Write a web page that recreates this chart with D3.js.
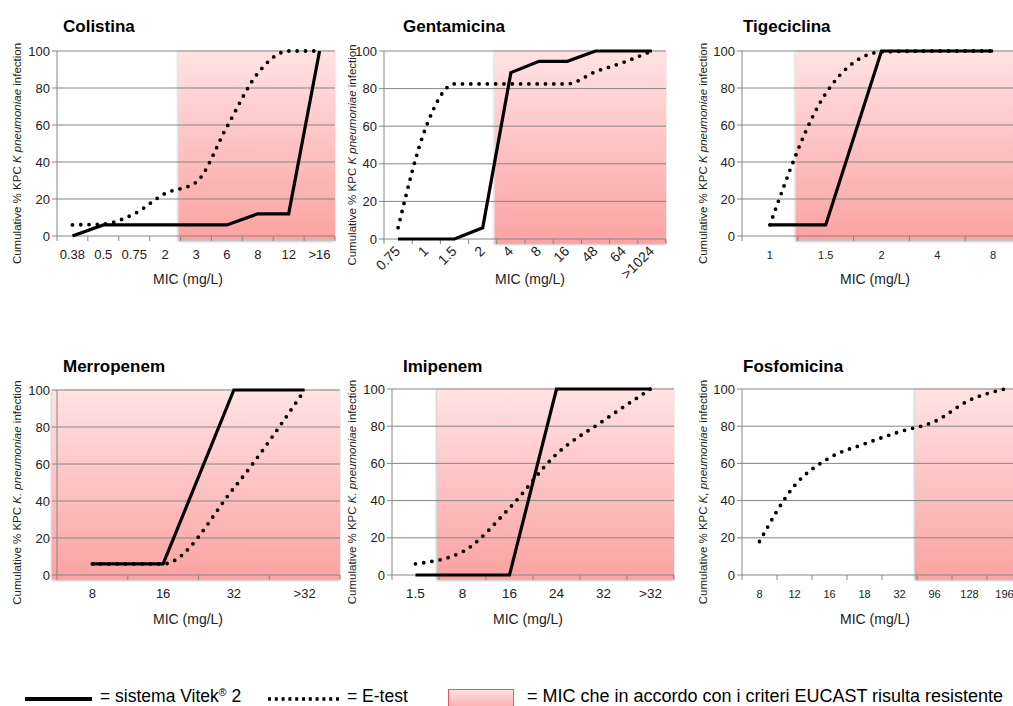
<!DOCTYPE html>
<html lang="it">
<head>
<meta charset="UTF-8">
<title>MIC cumulative KPC</title>
<script src="https://cdn.jsdelivr.net/npm/d3@7"></script>
<style>
  body { margin: 0; background: #fff; }
  svg text { font-family: Arial, "Liberation Sans", sans-serif; fill: #000; }
</style>
</head>
<body>
<script>
var w = 1013, h = 706;

// data (cumulative %)
var drugNames = ["Colistina", "Gentamicina", "Tigeciclina", "Merropenem", "Imipenem", "Fosfomicina"];

var colCats  = ["0.38", "0.5", "0.75", "2", "3", "6", "8", "12", ">16"];
var colVitek = [0, 6, 6, 6, 6, 6, 12, 12, 100];
var colEtest = [6, 6.5, 12, 23, 29, 59, 88, 100, 100];

var gentCats  = ["0.75", "1", "1.5", "2", "4", "8", "16", "48", "64", ">1024"];
var gentVitek = [0, 0, 0, 6, 88.5, 94.5, 94.5, 100, 100, 100];
var gentEtest = [6, 60, 82.5, 82.5, 82.5, 82.5, 82.5, 89, 94, 100];

var tigeCats  = ["1", "1.5", "2", "4", "8"];
var tigeVitek = [6, 6, 100, 100, 100];
var tigeEtest = [6, 77, 99.5, 100, 100];

var merCats  = ["8", "16", "32", ">32"];
var merVitek = [6, 6, 100, 100];
var merEtest = [6, 6, 47, 100];

var imiCats  = ["1.5", "8", "16", "24", "32", ">32"];
var imiVitek = [0, 0, 0, 100, 100, 100];
var imiEtest = [6, 12.5, 36, 65, 83, 100];

var fosCats  = ["8", "12", "16", "18", "32", "96", "128", "196"];
var fosEtest = [18, 48, 63, 70.5, 77, 82.5, 94, 100];

// first category considered resistant (EUCAST)
var resistantFrom = [4, 4, 1, 0, 1, 5];

var yTicks = [0, 20, 40, 60, 80, 100];
var yTitleSpecies = ["K", "K", "K", "K.", "K.", "K,"];

// panel placement
var layout = [
  {x0: 57,  x1: 335,  yTop: 51,  yBot: 236, tx: 63,  ty: 32,  ax: 17,  xFont: 13, micX: 188},
  {x0: 384, x1: 666,  yTop: 51,  yBot: 239, tx: 403, ty: 32,  ax: 352, xFont: 14, micX: 530, rotate: true},
  {x0: 742, x1: 1021, yTop: 51,  yBot: 236, tx: 743, ty: 32,  ax: 703, xFont: 11, micX: 875},
  {x0: 57,  x1: 340,  yTop: 390, yBot: 575, tx: 63,  ty: 372, ax: 17,  xFont: 13, micX: 188},
  {x0: 392, x1: 674,  yTop: 389, yBot: 575, tx: 403, ty: 372, ax: 352, xFont: 13.5, micX: 528},
  {x0: 742, x1: 1022, yTop: 389, yBot: 575, tx: 743, ty: 372, ax: 703, xFont: 11, micX: 875}
];

var panels = [
  {cats: colCats,  vitek: colVitek,  etest: colEtest},
  {cats: gentCats, vitek: gentVitek, etest: gentEtest},
  {cats: tigeCats, vitek: tigeVitek, etest: tigeEtest},
  {cats: merCats,  vitek: merVitek,  etest: merEtest},
  {cats: imiCats,  vitek: imiVitek,  etest: imiEtest},
  {cats: fosCats,  vitek: null,      etest: fosEtest}
];

var svg = d3.select("body").append("svg")
  .attr("width", w)
  .attr("height", h);

var defs = svg.append("defs");
var grad = defs.append("linearGradient")
  .attr("id", "pinkGrad")
  .attr("x1", 0).attr("y1", 0).attr("x2", 0).attr("y2", 1);
grad.append("stop").attr("offset", "0%").attr("stop-color", "#ffe3e4");
grad.append("stop").attr("offset", "100%").attr("stop-color", "#fba2a2");

var filt = defs.append("filter").attr("id", "shadow")
  .attr("x", "-5%").attr("y", "-5%").attr("width", "110%").attr("height", "115%");
filt.append("feDropShadow")
  .attr("dx", -0.5).attr("dy", 1.5)
  .attr("stdDeviation", 1.2)
  .attr("flood-color", "#000")
  .attr("flood-opacity", 0.3);

var gridColor = "#868686";

panels.forEach(function(p, k) {
  var L = layout[k];
  var g = svg.append("g");

  var xScale = d3.scaleBand()
    .domain(p.cats)
    .range([L.x0, L.x1])
    .padding(0);
  var yScale = d3.scaleLinear()
    .domain([0, 100])
    .range([L.yBot, L.yTop]);
  var bw = xScale.bandwidth();
  var cx = function(d, i) { return xScale(p.cats[i]) + bw / 2; };

  // resistant zone
  var rStart = resistantFrom[k] === 0 ? L.x0 - 5 : xScale(p.cats[resistantFrom[k]]) - 2;
  g.append("rect")
    .attr("x", rStart)
    .attr("y", yScale(100) - 1)
    .attr("width", L.x1 - rStart)
    .attr("height", yScale(0) - yScale(100) + 5)
    .attr("fill", "url(#pinkGrad)")
    .attr("filter", "url(#shadow)");

  // gridlines + y ticks
  g.selectAll("line.grid")
    .data(yTicks)
    .enter()
    .append("line")
    .attr("class", "grid")
    .attr("x1", L.x0 - 5)
    .attr("x2", L.x1)
    .attr("y1", function(d) { return yScale(d); })
    .attr("y2", function(d) { return yScale(d); })
    .attr("stroke", gridColor)
    .attr("stroke-width", 1);

  g.append("line")
    .attr("x1", L.x0).attr("x2", L.x0)
    .attr("y1", yScale(100)).attr("y2", yScale(0))
    .attr("stroke", gridColor);

  // x ticks at band edges
  var edges = p.cats.map(function(c) { return xScale(c); }).concat([L.x1]);
  g.selectAll("line.xt")
    .data(edges)
    .enter()
    .append("line")
    .attr("class", "xt")
    .attr("x1", function(d) { return d; })
    .attr("x2", function(d) { return d; })
    .attr("y1", yScale(0))
    .attr("y2", yScale(0) + 5)
    .attr("stroke", gridColor);

  g.selectAll("text.yl")
    .data(yTicks)
    .enter()
    .append("text")
    .attr("class", "yl")
    .attr("x", L.x0 - 7)
    .attr("y", function(d) { return yScale(d); })
    .attr("dy", "0.36em")
    .attr("text-anchor", "end")
    .style("font-size", "13px")
    .style("fill", "#222")
    .text(function(d) { return d; });

  if (L.rotate) {
    g.selectAll("text.xl")
      .data(p.cats)
      .enter()
      .append("text")
      .attr("class", "xl")
      .attr("text-anchor", "end")
      .attr("transform", function(d) {
        return "translate(" + (xScale(d) + bw / 2 + 3) + "," + (yScale(0) + 13) + ") rotate(-45)";
      })
      .style("font-size", L.xFont + "px")
      .style("fill", "#222")
      .text(function(d) { return d; });
  } else {
    g.selectAll("text.xl")
      .data(p.cats)
      .enter()
      .append("text")
      .attr("class", "xl")
      .attr("x", function(d) { return xScale(d) + bw / 2; })
      .attr("y", yScale(0) + 23)
      .attr("text-anchor", "middle")
      .style("font-size", L.xFont + "px")
      .style("fill", "#222")
      .text(function(d) { return d; });
  }

  // MIC axis title
  g.append("text")
    .attr("x", L.micX)
    .attr("y", L.ty + 252)
    .attr("text-anchor", "middle")
    .style("font-size", "14px")
    .style("fill", "#222")
    .text("MIC (mg/L)");

  // y axis title
  var yt = g.append("text")
    .attr("transform", "translate(" + (L.ax + 4) + "," + (L.yTop + L.yBot) / 2 + ") rotate(-90)")
    .attr("text-anchor", "middle")
    .attr("x", -10)
    .style("font-size", "11.5px")
    .style("fill", "#222");
  yt.append("tspan").text("Cumulative % KPC ");
  yt.append("tspan").style("font-style", "italic").text(yTitleSpecies[k] + " pneumoniae");
  yt.append("tspan").text(" infection");

  // chart title
  g.append("text")
    .attr("x", L.tx)
    .attr("y", L.ty)
    .style("font-size", "17px")
    .style("font-weight", "bold")
    .text(drugNames[k]);

  // E-test: smoothed dotted line
  var etestLine = d3.line()
    .x(function(d, i) { return cx(d, i); })
    .y(function(d) { return yScale(d); })
    .curve(d3.curveMonotoneX);
  g.append("path")
    .datum(p.etest)
    .attr("d", etestLine)
    .attr("fill", "none")
    .attr("stroke", "#000")
    .attr("stroke-width", 3.8)
    .attr("stroke-linecap", "round")
    .attr("stroke-dasharray", "0,8.3");

  // Vitek 2: straight solid line
  if (p.vitek) {
    var vitekLine = d3.line()
      .x(function(d, i) { return cx(d, i); })
      .y(function(d) { return yScale(d); });
    g.append("path")
      .datum(p.vitek)
      .attr("d", vitekLine)
      .attr("fill", "none")
      .attr("stroke", "#000")
      .attr("stroke-width", 3.2);
  }
});

// legend
var leg = svg.append("g");
leg.append("line")
  .attr("x1", 25).attr("x2", 92)
  .attr("y1", 699).attr("y2", 699)
  .attr("stroke", "#000").attr("stroke-width", 4);
var t1 = leg.append("text")
  .attr("x", 100).attr("y", 702)
  .style("font-size", "17.5px");
t1.append("tspan").text("= sistema Vitek");
t1.append("tspan").attr("dy", "-6").style("font-size", "10.5px").text("®");
t1.append("tspan").attr("dy", "6").text(" 2");

leg.append("line")
  .attr("x1", 268).attr("x2", 340)
  .attr("y1", 699).attr("y2", 699)
  .attr("stroke", "#000").attr("stroke-width", 3.5)
  .attr("stroke-dasharray", "3,3.8");
leg.append("text")
  .attr("x", 347).attr("y", 702)
  .style("font-size", "17.5px")
  .text("= E-test");

leg.append("rect")
  .attr("x", 448.5).attr("y", 689.5)
  .attr("width", 65).attr("height", 22)
  .attr("fill", "url(#pinkGrad)")
  .attr("stroke", "#e05a5a").attr("stroke-width", 1);
leg.append("text")
  .attr("x", 527).attr("y", 702)
  .attr("textLength", 476)
  .attr("lengthAdjust", "spacingAndGlyphs")
  .style("font-size", "17.5px")
  .text("= MIC che in accordo con i criteri EUCAST risulta resistente");
</script>
</body>
</html>
